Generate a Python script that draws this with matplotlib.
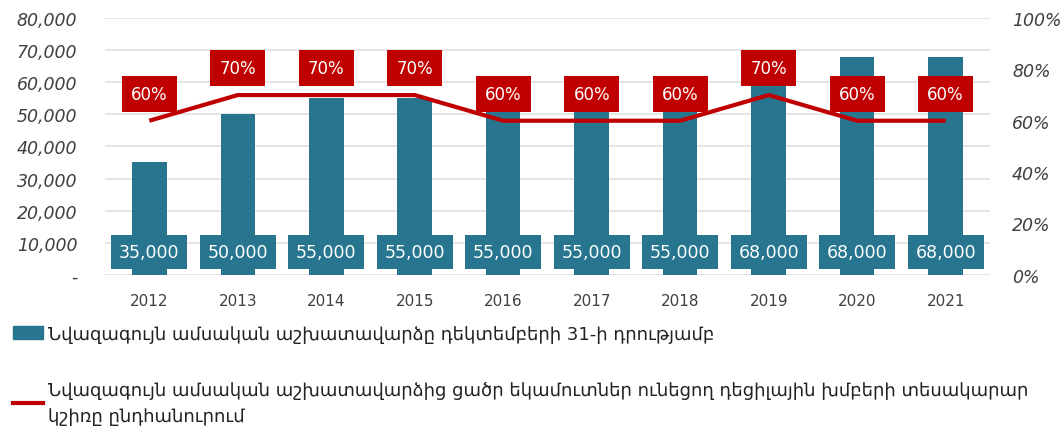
import matplotlib.pyplot as plt
from matplotlib.ticker import FuncFormatter

years = ['2012', '2013', '2014', '2015', '2016', '2017', '2018', '2019', '2020', '2021']
min_wage = [35000, 50000, 55000, 55000, 55000, 55000, 55000, 68000, 68000, 68000]
share_pct = [60, 70, 70, 70, 60, 60, 60, 70, 60, 60]

bar_label = 'Նվազագույն ամսական աշխատավարձը դեկտեմբերի 31-ի դրությամբ'
line_label = ('Նվազագույն ամսական աշխատավարձից ցածր եկամուտներ ունեցող դեցիլային խմբերի տեսակարար\n'
              'կշիռը ընդհանուրում')

teal = '#27758F'
red = '#C00000'
grey = '#404040'

plt.rcParams['font.family'] = ['DejaVu Sans']

fig = plt.figure(figsize=(10.61, 4.27), dpi=100)
ax = fig.add_axes([0.099, 0.354, 0.834, 0.6015])
x = list(range(len(years)))

ax.bar(x, min_wage, width=0.39, color=teal, zorder=2)
ax.set_ylim(0, 80000)
ax.set_xlim(-0.5, len(years) - 0.5)
ax.set_yticks(range(0, 80001, 10000))
ax.yaxis.set_major_formatter(FuncFormatter(lambda v, p: '-' if v == 0 else f'{int(v):,}'))
ax.grid(axis='y', color='#e0e0e0', linewidth=1.2, zorder=0)
ax.set_xticks(x)
ax.set_xticklabels(years, fontsize=11, color=grey)
for lab in ax.get_yticklabels():
    lab.set_fontstyle('italic')
    lab.set_fontsize(12.5)
    lab.set_color(grey)
ax.tick_params(axis='x', length=0, pad=13)
ax.tick_params(axis='y', length=0, pad=20)
for s in ax.spines.values():
    s.set_visible(False)

for i, v in enumerate(min_wage):
    ax.text(i, 7200, f'{v:,}', ha='center', va='center', color='white', fontsize=12.5, zorder=4,
            bbox=dict(boxstyle='square,pad=0.45', facecolor=teal, edgecolor='none'))

ax2 = ax.twinx()
ax2.plot(x, share_pct, color=red, linewidth=3, zorder=3, solid_capstyle='butt')
ax2.set_ylim(0, 100)
ax2.set_yticks(range(0, 101, 20))
ax2.yaxis.set_major_formatter(FuncFormatter(lambda v, p: f'{int(v)}%'))
for lab in ax2.get_yticklabels():
    lab.set_fontstyle('italic')
    lab.set_fontsize(12.5)
    lab.set_color(grey)
ax2.tick_params(length=0, pad=16)
for s in ax2.spines.values():
    s.set_visible(False)
for i, v in enumerate(share_pct):
    ax2.text(i, v + 10.5, f'{v}%', ha='center', va='center', color='white', fontsize=12, zorder=5,
             bbox=dict(boxstyle='square,pad=0.55', facecolor=red, edgecolor='none'))

h1 = plt.Rectangle((0, 0), 1, 1, color=teal)
h2 = plt.Line2D([], [], color=red, linewidth=3)
leg = fig.legend([h1, h2], [bar_label, line_label], loc='upper left', bbox_to_anchor=(0.0, 0.267),
                 frameon=False, fontsize=13, labelspacing=2.1, handlelength=1.7, handletextpad=0.25,
                 borderaxespad=0.3, labelcolor='#222222')
for t in leg.get_texts():
    t.set_linespacing(1.6)

fig.savefig('out.png', dpi=100)
